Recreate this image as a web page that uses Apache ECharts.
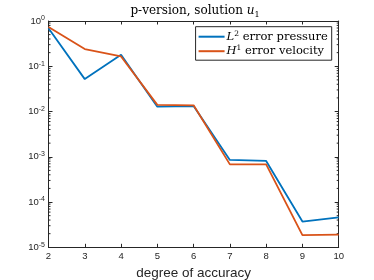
<!DOCTYPE html>
<html><head><meta charset="utf-8">
<script src="https://cdn.jsdelivr.net/npm/echarts@6/dist/echarts.min.js"></script>
<style>html,body{margin:0;padding:0;background:#fff}#c{width:374px;height:280px}</style>
</head><body><div id="c"></div>
<script>
const degrees = [2, 3, 4, 5, 6, 7, 8, 9, 10];
const l2Pressure = [0.69, 0.052, 0.18, 0.0128, 0.0132, 8.5e-4, 8.1e-4, 3.7e-5, 4.6e-5];
const h1Velocity = [0.74, 0.24, 0.165, 0.014, 0.0137, 6.8e-4, 6.8e-4, 1.85e-5, 1.9e-5];
const xTicks = [2, 3, 4, 5, 6, 7, 8, 9, 10];
const yTickExponents = [-5, -4, -3, -2, -1, 0];
const seriesNames = ['L2 error pressure', 'H1 error velocity'];

const AX = '#262626';
const minorVals = [];
for (let e = -5; e < 0; e++) for (let m = 2; m <= 9; m++) minorVals.push(m * Math.pow(10, e));

const chart = echarts.init(document.getElementById('c'), null, {renderer: 'canvas'});
const yBase = {
  type: 'log', logBase: 10, min: 1e-5, max: 1,
  axisLine: {show: true, lineStyle: {color: AX, width: 1}},
  axisTick: {show: true, inside: true, length: 4, lineStyle: {color: AX}},
  splitLine: {show: false}
};
const xBase = {
  type: 'value', min: 2, max: 10, interval: 1,
  axisLine: {show: true, onZero: false, lineStyle: {color: AX, width: 1}},
  axisTick: {show: true, inside: true, length: 3.5, lineStyle: {color: AX}},
  splitLine: {show: false}
};
chart.setOption({
  animation: false,
  backgroundColor: '#fff',
  title: {
    text: '{t|p-version, solution }{i|u}{sub|1}',
    left: 195, top: 3, textAlign: 'center', padding: 0,
    textStyle: {
      fontWeight: 'normal',
      rich: {
        t: {fontFamily: 'DejaVu Serif', fontWeight: 'normal', fontSize: 12, color: '#000', lineHeight: 16},
        i: {fontFamily: 'DejaVu Serif', fontWeight: 'normal', fontStyle: 'italic', fontSize: 12, color: '#000', lineHeight: 16},
        sub: {fontFamily: 'DejaVu Serif', fontWeight: 'normal', fontSize: 8, color: '#000', verticalAlign: 'bottom', lineHeight: 16}
      }
    }
  },
  legend: {
    orient: 'vertical', right: 42.3, top: 26.7,
    data: seriesNames,
    icon: 'rect', itemWidth: 26, itemHeight: 2, itemGap: 1.5,
    backgroundColor: '#fff', borderColor: AX, borderWidth: 1,
    padding: [3, 4, 3, 3],
    formatter: function (name) {
      const s = name.split(' ');
      const letter = s[0][0], sup = s[0].slice(1);
      return '{i|' + letter + '}{s|' + sup + '}{t| ' + s.slice(1).join(' ') + '}';
    },
    textStyle: {
      padding: [0, 0, 0, -3],
      rich: {
        i: {fontFamily: 'DejaVu Serif', fontStyle: 'italic', fontSize: 11.5, color: '#000', lineHeight: 14},
        s: {fontFamily: 'DejaVu Serif', fontSize: 7.5, color: '#000', verticalAlign: 'top', lineHeight: 10},
        t: {fontFamily: 'DejaVu Serif', fontSize: 11.5, color: '#000', lineHeight: 14}
      }
    }
  },
  grid: {left: 48.5, right: 35.3, top: 21, bottom: 32.7, containLabel: false, outerBoundsMode: 'none'},
  xAxis: [
    Object.assign({}, xBase, {
      position: 'bottom',
      name: 'degree of accuracy', nameLocation: 'middle', nameGap: 16,
      nameTextStyle: {fontFamily: 'Liberation Sans', fontSize: 13.5, color: AX},
      axisLabel: {
        show: true, margin: 4.5, color: AX, fontFamily: 'Liberation Sans', fontSize: 9.5,
        formatter: function (v) { return xTicks.indexOf(v) >= 0 ? String(v) : ''; }
      }
    }),
    Object.assign({}, xBase, {position: 'top', axisLabel: {show: false}})
  ],
  yAxis: [
    Object.assign({}, yBase, {
      position: 'left',
      axisLabel: {
        show: true, margin: 3.5,
        formatter: function (v) {
          const e = Math.round(Math.log10(v));
          return yTickExponents.indexOf(e) >= 0 ? '{b|10}{s|' + e + '}' : '';
        },
        rich: {
          b: {fontFamily: 'Liberation Sans', fontSize: 9.5, color: AX, lineHeight: 12},
          s: {fontFamily: 'Liberation Sans', fontSize: 7, color: AX, verticalAlign: 'top', lineHeight: 8}
        }
      }
    }),
    Object.assign({}, yBase, {position: 'right', axisLabel: {show: false}})
  ],
  series: [
    {
      name: seriesNames[0], type: 'line', xAxisIndex: 0, yAxisIndex: 0,
      data: degrees.map((d, i) => [d, l2Pressure[i]]),
      showSymbol: false, symbol: 'none',
      lineStyle: {color: '#0072BD', width: 1.8}, itemStyle: {color: '#0072BD'}, z: 3
    },
    {
      name: seriesNames[1], type: 'line', xAxisIndex: 0, yAxisIndex: 0,
      data: degrees.map((d, i) => [d, h1Velocity[i]]),
      showSymbol: false, symbol: 'none',
      lineStyle: {color: '#D95319', width: 1.8}, itemStyle: {color: '#D95319'}, z: 4
    },
    {
      name: 'minor', type: 'custom', xAxisIndex: 0, yAxisIndex: 0, silent: true,
      data: minorVals.map(v => [2, v]),
      renderItem: function (params, api) {
        const y = api.coord([2, api.value(1)])[1];
        const cs = params.coordSys;
        const st = {stroke: AX, lineWidth: 1};
        return {type: 'group', children: [
          {type: 'line', shape: {x1: cs.x, y1: y, x2: cs.x + 2, y2: y}, style: st},
          {type: 'line', shape: {x1: cs.x + cs.width - 2, y1: y, x2: cs.x + cs.width, y2: y}, style: st}
        ]};
      },
      z: 2
    }
  ]
});
</script></body></html>
